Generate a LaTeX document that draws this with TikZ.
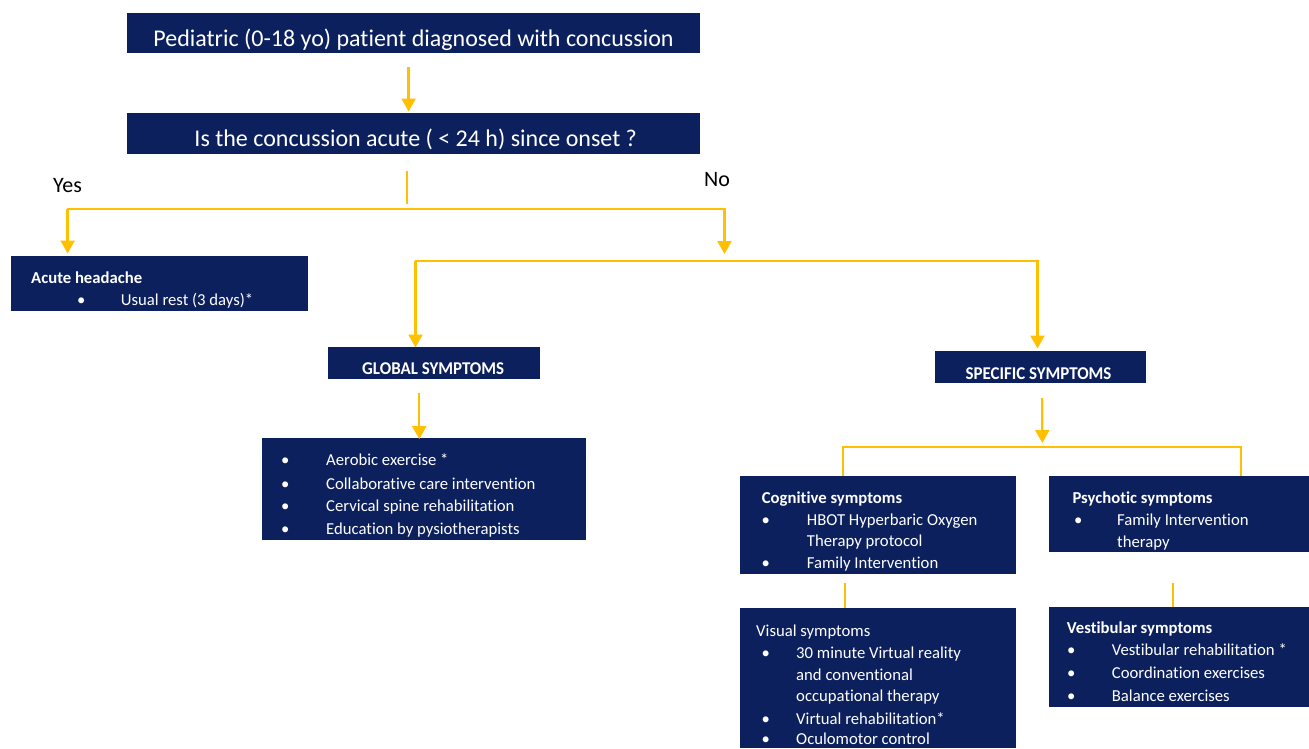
\documentclass[tikz,border=0pt]{standalone}
\usepackage{fontspec}
\setmainfont{Carlito}[Ligatures=NoCommon]
\usetikzlibrary{arrows.meta,fit}
\definecolor{navy}{RGB}{12,32,94}
\definecolor{gold}{RGB}{255,192,0}
\newcommand\fsbody{\fontsize{16.7}{20}\selectfont}
\newcommand\itm[5]{\node[txt] (#1b) at (#2,#4) {\textbullet}; \node[txt] (#1) at (#3,#4) {#5};}
\begin{document}
\begin{tikzpicture}[x=1pt,y=-1pt,
 box/.style={fill=navy, draw=none, inner sep=0pt},
 txt/.style={anchor=base west, inner sep=0pt, text=white, font=\fsbody},
 hdr/.style={anchor=base west, inner sep=0pt, text=white, font=\fsbody\bfseries},
 big/.style={anchor=base, inner sep=0pt, text=white, font=\fontsize{24}{28}\selectfont},
 lbl/.style={anchor=base west, inner sep=0pt, text=black, font=\fontsize{22}{26}\selectfont},
 ttl/.style={anchor=base, inner sep=0pt, text=white, font=\fontsize{18}{20}\selectfont\bfseries},
 arr/.style={draw=gold, line width=2.3pt, -{Triangle[width=14pt,length=13pt]}},
 gl/.style={draw=gold, line width=2pt, line cap=rect},
 tl/.style={draw=gold, line width=2pt},
]
\useasboundingbox (0,0) rectangle (1309,748);

% boxes
\node[box, fit={(126.5,12.5) (699.5,53.3)}] (top) {};
\node[box, fit={(126.5,113.3) (699.5,154.3)}] (q) {};
\node[box, fit={(11,255.7) (308.3,310.7)}] (acute) {};
\node[box, fit={(328.3,346.7) (540,379.3)}] (global) {};
\node[box, fit={(934.8,350.7) (1146,382.7)}] (spec) {};
\node[box, fit={(261.7,437.7) (586,540)}] (glist) {};
\node[box, fit={(740,475.7) (1015.7,574.3)}] (cog) {};
\node[box, fit={(1049,475.7) (1309,551.7)}] (psy) {};
\node[box, fit={(740,607.7) (1015.7,748)}] (vis) {};
\node[box, fit={(1048.5,607) (1309,707.3)}] (ves) {};

% connectors
\draw[arr, shorten >=1.6pt] ([xshift=-4.4pt,yshift=-13.4pt]top.south) -- ([xshift=-4.4pt]q.north);
\coordinate (j0) at (407,204);
\draw[tl] (j0 |- q.south) ++(0,16) -- (j0);
\coordinate (ya) at (67.6,209);
\coordinate (na) at (724.5,209);
\draw[gl] (ya) -- (na);
\draw[arr, shorten >=2pt] (ya) -- (ya |- acute.north);
\coordinate (nb) at (724.5,254);
\draw[arr] (na) -- (nb);
\coordinate (ga) at (415.5,261);
\coordinate (sa) at (1037.5,261);
\draw[gl] (ga) -- (sa);
\draw[arr, shorten >=-1pt] (ga) -- (ga |- global.north);
\draw[arr, shorten >=2pt] (sa) -- (sa |- spec.north);
\path ([xshift=-14.9pt,yshift=-13.7pt]global.south) coordinate (gs);
\draw[arr, shorten >=-1.6pt] (gs) -- (gs |- glist.north);
\path ([xshift=1.9pt,yshift=-15.3pt]spec.south) coordinate (ss);
\coordinate (sb) at (1042.3,443);
\draw[arr] (ss) -- (sb);
\coordinate (bl) at (843,447);
\coordinate (br) at (1241,447);
\draw[tl] (bl |- cog.north) -- (bl) -- (br) -- (br |- psy.north);
\coordinate (c1) at (845,583.3);
\draw[tl] (c1) -- (c1 |- vis.north);
\coordinate (p1) at (1173,583.3);
\draw[tl] (p1) -- (p1 |- ves.north);

% texts
\node[big] (toptx) at (413.5,46) {Pediatric (0-18 yo) patient diagnosed with concussion};
\node[big] (qtx) at (415.7,146.7) {Is the concussion acute ( < 24 h) since onset ?};
\node[lbl] (yes) at (53,192.3) {Yes};
\node[lbl] (no) at (704,186.7) {No};

\node[hdr] (acuteh) at (31,283.3) {Acute headache};
\itm{a1}{77}{120.7}{305.7}{Usual rest (3 days)*}

\node[ttl] (globtx) at (433.2,374.3) {\scalebox{0.94}[1]{GLOBAL SYMPTOMS}};
\node[ttl] (spectx) at (1038.5,379.3) {\scalebox{0.94}[1]{SPECIFIC SYMPTOMS}};

\itm{g1}{281}{326}{465}{Aerobic exercise *}
\itm{g2}{281}{326}{489}{Collaborative care intervention}
\itm{g3}{281}{326}{511.7}{Cervical spine rehabilitation}
\itm{g4}{281}{326}{534}{Education by pysiotherapists}

\node[hdr] (cogh) at (761.7,503.3) {Cognitive symptoms};
\itm{c1t}{761.5}{806.7}{525}{HBOT Hyperbaric Oxygen}
\node[txt] (c1u) at (806.7,546.7) {Therapy protocol};
\itm{c2t}{761.5}{806.7}{568.3}{Family Intervention}

\node[hdr] (psyh) at (1072.3,503.3) {Psychotic symptoms};
\itm{p1t}{1074}{1117}{525}{Family Intervention}
\node[txt] (p1u) at (1117,547.3) {therapy};

\node[txt] (vish) at (756,636.7) {Visual symptoms};
\itm{v1}{761.5}{796}{658.3}{30 minute Virtual reality}
\node[txt] (v1u) at (796,680) {and conventional};
\node[txt] (v1w) at (796,701.7) {occupational therapy};
\itm{v2}{761.5}{796}{724.5}{Virtual rehabilitation*}
\itm{v3}{761.5}{796}{744.5}{Oculomotor control}

\node[hdr] (vesh) at (1066.7,633.3) {Vestibular symptoms};
\itm{s1}{1067}{1111.7}{655}{Vestibular rehabilitation *}
\itm{s2}{1067}{1111.7}{678.3}{Coordination exercises}
\itm{s3}{1067}{1111.7}{701}{Balance exercises}
\end{tikzpicture}
\end{document}
